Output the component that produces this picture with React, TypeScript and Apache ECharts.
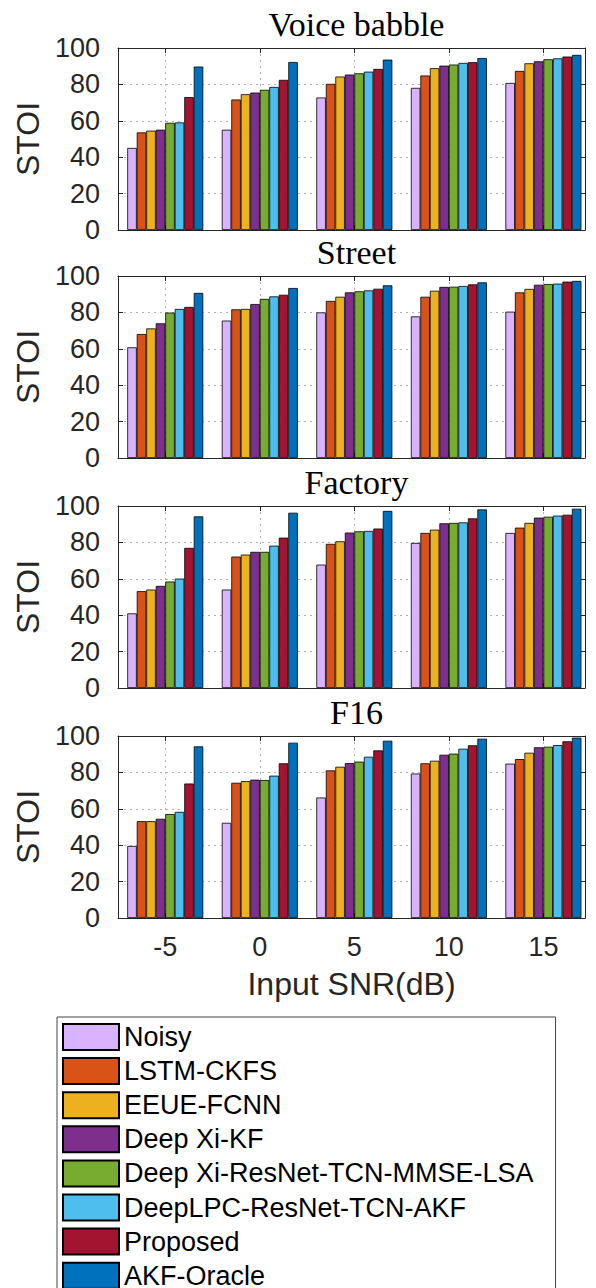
import React, { useEffect, useRef } from "react";
import * as echarts from "echarts";

const snrLevels = [-5, 0, 5, 10, 15];
const methods = [
  "Noisy",
  "LSTM-CKFS",
  "EEUE-FCNN",
  "Deep Xi-KF",
  "Deep Xi-ResNet-TCN-MMSE-LSA",
  "DeepLPC-ResNet-TCN-AKF",
  "Proposed",
  "AKF-Oracle",
];
const colors = ["#D9B3FF", "#D95319", "#EDB120", "#7E2F8E", "#77AC30", "#4DBEEE", "#A2142F", "#0072BD"];
const panelTitles = ["Voice babble", "Street", "Factory", "F16"];

// rows = methods, columns = SNR levels
const voiceBabble = [
  [45.1, 55.1, 72.8, 78.1, 80.8],
  [53.6, 71.7, 80.3, 84.9, 87.4],
  [54.6, 74.6, 84.3, 88.9, 91.6],
  [55.1, 75.5, 85.4, 90.3, 92.7],
  [58.9, 77.0, 86.1, 90.9, 93.8],
  [59.1, 78.6, 87.0, 91.8, 94.3],
  [73.0, 82.5, 88.5, 92.2, 95.3],
  [89.8, 92.3, 93.6, 94.5, 96.2],
];
const street = [
  [60.8, 75.5, 80.0, 77.8, 80.4],
  [68.1, 81.7, 86.3, 88.6, 91.0],
  [71.2, 81.9, 88.6, 91.9, 92.9],
  [74.0, 84.6, 91.0, 94.0, 95.2],
  [79.9, 87.4, 91.6, 94.1, 95.6],
  [81.9, 88.8, 92.1, 94.5, 95.8],
  [83.0, 89.7, 93.0, 95.4, 96.9],
  [90.7, 93.4, 94.9, 96.5, 97.3],
];
const factory = [
  [41.0, 54.1, 67.8, 79.7, 85.2],
  [53.2, 72.2, 79.2, 85.2, 88.1],
  [54.1, 73.3, 80.6, 87.0, 90.7],
  [56.1, 74.8, 85.4, 90.5, 93.6],
  [58.5, 74.8, 86.1, 90.7, 94.1],
  [60.1, 78.2, 86.3, 91.0, 94.7],
  [77.0, 82.6, 87.6, 93.2, 95.2],
  [94.3, 96.3, 97.3, 98.1, 98.5],
];
const f16 = [
  [39.6, 52.3, 66.2, 79.4, 84.8],
  [53.2, 74.3, 81.1, 85.0, 87.3],
  [53.2, 75.2, 83.1, 86.4, 90.8],
  [54.5, 76.0, 85.1, 89.7, 93.8],
  [57.1, 75.8, 85.9, 90.3, 94.1],
  [58.3, 78.2, 88.6, 93.0, 95.0],
  [73.9, 85.0, 92.1, 94.9, 97.1],
  [94.3, 96.3, 97.4, 98.5, 99.1],
];
const panels = [voiceBabble, street, factory, f16];

const yTicks = { min: 0, max: 100, interval: 20 };
const xRange = { min: -7.5, max: 17.2 };

const gridTops = [48, 276, 506, 736];
const gridHeight = 182;
const gridLeft = 118;
const gridWidth = 467;

const SANS = "Liberation Sans, Arial, Helvetica, sans-serif";
const SERIF = "Liberation Serif, Times New Roman, serif";
const INK = "#262626";

export default function App() {
  const ref = useRef<HTMLDivElement>(null);
  useEffect(() => {
    if (!ref.current) return;
    const chart = echarts.init(ref.current, null, { renderer: "svg" });

    const grids: any[] = [];
    const xAxes: any[] = [];
    const yAxes: any[] = [];
    const titles: any[] = [];
    const series: any[] = [];

    panels.forEach((panel, p) => {
      const last = p === panels.length - 1;
      grids.push({ left: gridLeft, top: gridTops[p], width: gridWidth, height: gridHeight, containLabel: false });
      titles.push({
        text: panelTitles[p],
        left: gridLeft + gridWidth / 2,
        textAlign: "center",
        top: gridTops[p] - 46,
        textStyle: { fontFamily: SERIF, fontSize: 34, fontWeight: "normal", color: "#000" },
      });
      const lineStyle = { color: INK, width: 1 };
      xAxes.push({
        type: "value",
        gridIndex: p,
        position: "bottom",
        min: xRange.min,
        max: xRange.max,
        axisLine: { show: true, onZero: false, lineStyle },
        axisTick: { show: true, inside: true, length: 5, lineStyle },
        splitLine: { show: true, lineStyle: { color: "#b0b0b0", type: [2, 4], width: 1 } },
        axisLabel: {
          show: last,
          margin: 15,
          fontSize: 27,
          fontFamily: SANS,
          color: INK,
          showMinLabel: false,
          showMaxLabel: false,
          formatter: (v: number) => (snrLevels.includes(v) ? String(v) : ""),
        },
        name: last ? "Input SNR(dB)" : "",
        nameLocation: "middle",
        nameGap: 50,
        nameTextStyle: { fontSize: 32, fontFamily: SANS, color: INK },
      });
      xAxes.push({
        type: "value",
        gridIndex: p,
        position: "top",
        min: xRange.min,
        max: xRange.max,
        axisLine: { show: true, onZero: false, lineStyle },
        axisTick: { show: true, inside: true, length: 5, lineStyle },
        splitLine: { show: false },
        axisLabel: { show: false },
      });
      yAxes.push({
        type: "value",
        gridIndex: p,
        position: "left",
        ...yTicks,
        axisLine: { show: true, onZero: false, lineStyle },
        axisTick: { show: true, inside: true, length: 5, lineStyle },
        splitLine: { show: true, lineStyle: { color: "#b0b0b0", type: [2, 4], width: 1 } },
        axisLabel: { margin: 18, fontSize: 27, fontFamily: SANS, color: INK },
        name: "STOI",
        nameLocation: "middle",
        nameGap: 68,
        nameTextStyle: { fontSize: 32, fontFamily: SANS, color: INK },
      });
      yAxes.push({
        type: "value",
        gridIndex: p,
        position: "right",
        ...yTicks,
        axisLine: { show: true, onZero: false, lineStyle },
        axisTick: { show: true, inside: true, length: 5, lineStyle },
        splitLine: { show: false },
        axisLabel: { show: false },
      });

      panel.forEach((row, m) => {
        series.push({
          type: "bar",
          name: methods[m],
          xAxisIndex: p * 2,
          yAxisIndex: p * 2,
          data: snrLevels.map((s, j) => [s, row[j]]),
          barWidth: 9.5,
          barGap: "0%",
          itemStyle: { color: colors[m], borderColor: "#000", borderWidth: 0.8 },
        });
      });
    });

    chart.setOption({
      animation: false,
      backgroundColor: "#fff",
      title: titles,
      grid: grids,
      xAxis: xAxes,
      yAxis: yAxes,
      legend: {
        data: methods,
        orient: "vertical",
        left: 57,
        top: 1017,
        height: 320,
        padding: [6, 22, 12, 5],
        itemWidth: 56,
        itemHeight: 26,
        itemGap: 6.1,
        icon: "rect",
        borderColor: "#444",
        borderWidth: 1,
        selectedMode: false,
        textStyle: { fontSize: 27, fontFamily: SANS, color: "#000", lineHeight: 26 },
      },
      series,
    });

    return () => chart.dispose();
  }, []);

  return <div ref={ref} style={{ position: "fixed", left: 0, top: 0, width: 596, height: 1288 }} />;
}
